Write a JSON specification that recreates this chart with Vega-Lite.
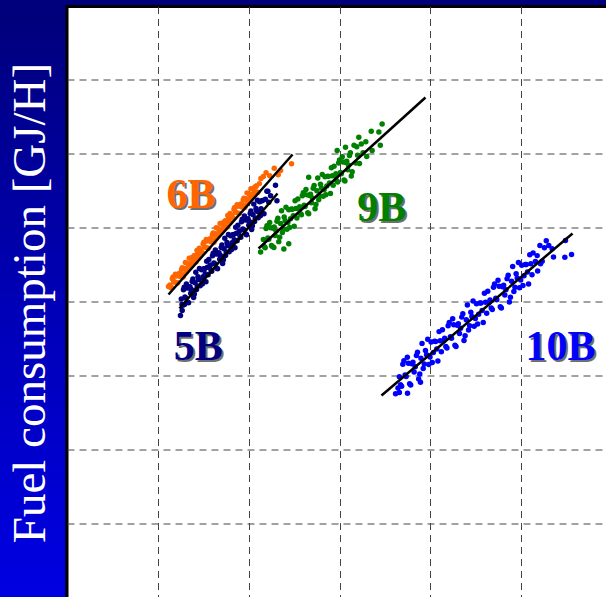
{
"$schema": "https://vega.github.io/schema/vega-lite/v6.json",
"padding": {"left": 0, "top": 4.5, "right": 0, "bottom": 0},
"background": "#00007c",
"spacing": 0,
"config": {"view": {"stroke": null}, "font": "Liberation Serif"},
"datasets": {
"pts": [
{"s":"6B","x":11.30,"y":42.22},{"s":"6B","x":11.47,"y":41.89},{"s":"6B","x":11.64,"y":43.30},{"s":"6B","x":11.81,"y":42.65},{"s":"6B","x":11.98,"y":43.46},{"s":"6B","x":12.15,"y":42.52},{"s":"6B","x":12.32,"y":43.79},{"s":"6B","x":12.49,"y":43.70},{"s":"6B","x":12.66,"y":44.56},{"s":"6B","x":12.83,"y":43.61},{"s":"6B","x":13.00,"y":45.28},{"s":"6B","x":13.17,"y":44.39},{"s":"6B","x":13.34,"y":44.98},{"s":"6B","x":13.51,"y":44.63},{"s":"6B","x":13.68,"y":45.90},{"s":"6B","x":13.85,"y":45.51},{"s":"6B","x":14.02,"y":46.21},{"s":"6B","x":14.19,"y":45.37},{"s":"6B","x":14.36,"y":46.53},{"s":"6B","x":14.53,"y":47.21},{"s":"6B","x":14.70,"y":46.92},{"s":"6B","x":14.87,"y":46.58},{"s":"6B","x":15.04,"y":48.00},{"s":"6B","x":15.21,"y":47.34},{"s":"6B","x":15.38,"y":48.16},{"s":"6B","x":15.55,"y":47.21},{"s":"6B","x":15.72,"y":48.49},{"s":"6B","x":15.89,"y":48.39},{"s":"6B","x":16.06,"y":49.26},{"s":"6B","x":16.23,"y":48.30},{"s":"6B","x":16.40,"y":49.98},{"s":"6B","x":16.57,"y":49.08},{"s":"6B","x":16.74,"y":49.68},{"s":"6B","x":16.91,"y":49.33},{"s":"6B","x":17.08,"y":50.60},{"s":"6B","x":17.25,"y":50.21},{"s":"6B","x":17.42,"y":50.91},{"s":"6B","x":17.59,"y":50.07},{"s":"6B","x":17.76,"y":51.23},{"s":"6B","x":17.93,"y":51.91},{"s":"6B","x":18.10,"y":51.62},{"s":"6B","x":18.27,"y":51.28},{"s":"6B","x":18.44,"y":52.70},{"s":"6B","x":18.61,"y":52.04},{"s":"6B","x":18.78,"y":52.86},{"s":"6B","x":18.95,"y":51.91},{"s":"6B","x":19.12,"y":53.19},{"s":"6B","x":19.29,"y":53.09},{"s":"6B","x":19.46,"y":53.96},{"s":"6B","x":19.63,"y":53.00},{"s":"6B","x":19.80,"y":54.68},{"s":"6B","x":19.97,"y":53.78},{"s":"6B","x":20.14,"y":54.38},{"s":"6B","x":20.31,"y":54.03},{"s":"6B","x":20.48,"y":55.30},{"s":"6B","x":20.65,"y":54.91},{"s":"6B","x":20.82,"y":55.61},{"s":"6B","x":20.99,"y":54.77},{"s":"6B","x":21.16,"y":55.93},{"s":"6B","x":21.33,"y":56.61},
{"s":"6B","x":11.39,"y":41.89},{"s":"6B","x":11.56,"y":43.06},{"s":"6B","x":11.73,"y":42.66},{"s":"6B","x":11.90,"y":43.69},{"s":"6B","x":12.07,"y":42.51},{"s":"6B","x":12.24,"y":43.64},{"s":"6B","x":12.41,"y":43.37},{"s":"6B","x":12.58,"y":44.32},{"s":"6B","x":12.75,"y":43.30},{"s":"6B","x":12.92,"y":44.47},{"s":"6B","x":13.09,"y":44.10},{"s":"6B","x":13.26,"y":45.13},{"s":"6B","x":13.43,"y":45.83},{"s":"6B","x":13.60,"y":45.09},{"s":"6B","x":13.77,"y":44.95},{"s":"6B","x":13.94,"y":46.14},{"s":"6B","x":14.11,"y":45.91},{"s":"6B","x":14.28,"y":46.91},{"s":"6B","x":14.45,"y":46.05},{"s":"6B","x":14.62,"y":46.73},{"s":"6B","x":14.79,"y":46.59},{"s":"6B","x":14.96,"y":47.76},{"s":"6B","x":15.13,"y":47.36},{"s":"6B","x":15.30,"y":48.39},{"s":"6B","x":15.47,"y":47.21},{"s":"6B","x":15.64,"y":48.34},{"s":"6B","x":15.81,"y":48.07},{"s":"6B","x":15.98,"y":49.02},{"s":"6B","x":16.15,"y":48.00},{"s":"6B","x":16.32,"y":49.17},{"s":"6B","x":16.49,"y":48.80},{"s":"6B","x":16.66,"y":49.83},{"s":"6B","x":16.83,"y":50.53},{"s":"6B","x":17.00,"y":49.79},{"s":"6B","x":17.17,"y":49.65},{"s":"6B","x":17.34,"y":50.84},{"s":"6B","x":17.51,"y":50.61},{"s":"6B","x":17.68,"y":51.61},{"s":"6B","x":17.85,"y":50.75},{"s":"6B","x":18.02,"y":51.43},{"s":"6B","x":18.19,"y":51.29},{"s":"6B","x":18.36,"y":52.46},{"s":"6B","x":18.53,"y":52.06},{"s":"6B","x":18.70,"y":53.09},{"s":"6B","x":18.87,"y":51.91},{"s":"6B","x":19.04,"y":53.04},{"s":"6B","x":19.21,"y":52.77},{"s":"6B","x":19.38,"y":53.72},{"s":"6B","x":19.55,"y":52.70},{"s":"6B","x":19.72,"y":53.87},{"s":"6B","x":19.89,"y":53.50},{"s":"6B","x":20.06,"y":54.53},{"s":"6B","x":20.23,"y":55.23},{"s":"6B","x":20.40,"y":54.49},{"s":"6B","x":20.57,"y":54.35},{"s":"6B","x":20.74,"y":55.54},
{"s":"6B","x":11.14,"y":42.03},{"s":"6B","x":21.6,"y":56.9},{"s":"6B","x":21.9,"y":57.4},{"s":"6B","x":22.3,"y":57.0},{"s":"6B","x":22.8,"y":58.0},{"s":"6B","x":23.24,"y":57.12},{"s":"6B","x":23.5,"y":57.7},{"s":"6B","x":24.71,"y":58.6},
{"s":"5B","x":12.55,"y":40.33},{"s":"5B","x":12.71,"y":39.49},{"s":"5B","x":12.87,"y":41.93},{"s":"5B","x":13.03,"y":40.49},{"s":"5B","x":13.19,"y":41.81},{"s":"5B","x":13.35,"y":39.82},{"s":"5B","x":13.51,"y":42.00},{"s":"5B","x":13.67,"y":41.62},{"s":"5B","x":13.83,"y":43.04},{"s":"5B","x":13.99,"y":41.03},{"s":"5B","x":14.15,"y":43.96},{"s":"5B","x":14.31,"y":42.06},{"s":"5B","x":14.47,"y":42.98},{"s":"5B","x":14.63,"y":42.12},{"s":"5B","x":14.79,"y":44.29},{"s":"5B","x":14.95,"y":43.35},{"s":"5B","x":15.11,"y":44.44},{"s":"5B","x":15.27,"y":42.66},{"s":"5B","x":15.43,"y":44.62},{"s":"5B","x":15.59,"y":45.69},{"s":"5B","x":15.75,"y":44.93},{"s":"5B","x":15.91,"y":44.09},{"s":"5B","x":16.07,"y":46.53},{"s":"5B","x":16.23,"y":45.09},{"s":"5B","x":16.39,"y":46.41},{"s":"5B","x":16.55,"y":44.42},{"s":"5B","x":16.71,"y":46.60},{"s":"5B","x":16.87,"y":46.22},{"s":"5B","x":17.03,"y":47.64},{"s":"5B","x":17.19,"y":45.63},{"s":"5B","x":17.35,"y":48.56},{"s":"5B","x":17.51,"y":46.66},{"s":"5B","x":17.67,"y":47.58},{"s":"5B","x":17.83,"y":46.72},{"s":"5B","x":17.99,"y":48.89},{"s":"5B","x":18.15,"y":47.95},{"s":"5B","x":18.31,"y":49.04},{"s":"5B","x":18.47,"y":47.26},{"s":"5B","x":18.63,"y":49.22},{"s":"5B","x":18.79,"y":50.29},{"s":"5B","x":18.95,"y":49.53},{"s":"5B","x":19.11,"y":48.69},{"s":"5B","x":19.27,"y":51.13},{"s":"5B","x":19.43,"y":49.69},{"s":"5B","x":19.59,"y":51.01},{"s":"5B","x":19.75,"y":49.02},{"s":"5B","x":19.91,"y":51.20},{"s":"5B","x":20.07,"y":50.82},{"s":"5B","x":20.23,"y":52.24},{"s":"5B","x":20.39,"y":50.23},{"s":"5B","x":20.55,"y":53.16},{"s":"5B","x":20.71,"y":51.26},{"s":"5B","x":20.87,"y":52.18},{"s":"5B","x":21.03,"y":51.32},{"s":"5B","x":21.19,"y":53.49},{"s":"5B","x":21.35,"y":52.55},{"s":"5B","x":21.51,"y":53.64},{"s":"5B","x":21.67,"y":51.86},{"s":"5B","x":21.83,"y":53.82},{"s":"5B","x":21.99,"y":54.89},
{"s":"5B","x":12.63,"y":39.59},{"s":"5B","x":12.79,"y":41.58},{"s":"5B","x":12.95,"y":40.61},{"s":"5B","x":13.11,"y":42.35},{"s":"5B","x":13.27,"y":39.91},{"s":"5B","x":13.43,"y":41.83},{"s":"5B","x":13.59,"y":41.10},{"s":"5B","x":13.75,"y":42.69},{"s":"5B","x":13.91,"y":40.54},{"s":"5B","x":14.07,"y":42.54},{"s":"5B","x":14.23,"y":41.62},{"s":"5B","x":14.39,"y":43.36},{"s":"5B","x":14.55,"y":44.47},{"s":"5B","x":14.71,"y":42.86},{"s":"5B","x":14.87,"y":42.38},{"s":"5B","x":15.03,"y":44.42},{"s":"5B","x":15.19,"y":43.75},{"s":"5B","x":15.35,"y":45.44},{"s":"5B","x":15.51,"y":43.61},{"s":"5B","x":15.67,"y":44.67},{"s":"5B","x":15.83,"y":44.19},{"s":"5B","x":15.99,"y":46.18},{"s":"5B","x":16.15,"y":45.21},{"s":"5B","x":16.31,"y":46.95},{"s":"5B","x":16.47,"y":44.51},{"s":"5B","x":16.63,"y":46.43},{"s":"5B","x":16.79,"y":45.70},{"s":"5B","x":16.95,"y":47.29},{"s":"5B","x":17.11,"y":45.14},{"s":"5B","x":17.27,"y":47.14},{"s":"5B","x":17.43,"y":46.22},{"s":"5B","x":17.59,"y":47.96},{"s":"5B","x":17.75,"y":49.07},{"s":"5B","x":17.91,"y":47.46},{"s":"5B","x":18.07,"y":46.98},{"s":"5B","x":18.23,"y":49.02},{"s":"5B","x":18.39,"y":48.35},{"s":"5B","x":18.55,"y":50.04},{"s":"5B","x":18.71,"y":48.21},{"s":"5B","x":18.87,"y":49.27},{"s":"5B","x":19.03,"y":48.79},{"s":"5B","x":19.19,"y":50.78},{"s":"5B","x":19.35,"y":49.81},{"s":"5B","x":19.51,"y":51.55},{"s":"5B","x":19.67,"y":49.11},{"s":"5B","x":19.83,"y":51.03},{"s":"5B","x":19.99,"y":50.30},{"s":"5B","x":20.15,"y":51.89},{"s":"5B","x":20.31,"y":49.74},{"s":"5B","x":20.47,"y":51.74},{"s":"5B","x":20.63,"y":50.82},{"s":"5B","x":20.79,"y":52.56},{"s":"5B","x":20.95,"y":53.67},{"s":"5B","x":21.11,"y":52.06},{"s":"5B","x":21.27,"y":51.58},{"s":"5B","x":21.43,"y":53.62},
{"s":"5B","x":12.46,"y":38.1},{"s":"5B","x":12.65,"y":38.8},{"s":"5B","x":12.9,"y":39.6},{"s":"5B","x":22.2,"y":53.4},{"s":"5B","x":22.4,"y":54.3},{"s":"5B","x":22.94,"y":55.7},{"s":"5B","x":23.1,"y":53.6},{"s":"5B","x":22.1,"y":54.9},
{"s":"9B","x":21.6,"y":48.39},{"s":"9B","x":21.8,"y":47.27},{"s":"9B","x":22.0,"y":50.25},{"s":"9B","x":22.2,"y":48.40},{"s":"9B","x":22.4,"y":49.98},{"s":"9B","x":22.6,"y":47.42},{"s":"9B","x":22.8,"y":50.08},{"s":"9B","x":23.0,"y":49.54},{"s":"9B","x":23.2,"y":51.24},{"s":"9B","x":23.4,"y":48.67},{"s":"9B","x":23.6,"y":52.27},{"s":"9B","x":23.8,"y":49.83},{"s":"9B","x":24.0,"y":50.91},{"s":"9B","x":24.2,"y":49.77},{"s":"9B","x":24.4,"y":52.41},{"s":"9B","x":24.6,"y":51.18},{"s":"9B","x":24.8,"y":52.48},{"s":"9B","x":25.0,"y":50.18},{"s":"9B","x":25.2,"y":52.56},{"s":"9B","x":25.4,"y":53.84},{"s":"9B","x":25.6,"y":52.82},{"s":"9B","x":25.8,"y":51.71},{"s":"9B","x":26.0,"y":54.69},{"s":"9B","x":26.2,"y":52.83},{"s":"9B","x":26.4,"y":54.41},{"s":"9B","x":26.6,"y":51.85},{"s":"9B","x":26.8,"y":54.51},{"s":"9B","x":27.0,"y":53.98},{"s":"9B","x":27.2,"y":55.68},{"s":"9B","x":27.4,"y":53.10},{"s":"9B","x":27.6,"y":56.70},{"s":"9B","x":27.8,"y":54.26},{"s":"9B","x":28.0,"y":55.34},{"s":"9B","x":28.2,"y":54.21},{"s":"9B","x":28.4,"y":56.85},{"s":"9B","x":28.6,"y":55.61},{"s":"9B","x":28.8,"y":56.91},{"s":"9B","x":29.0,"y":54.61},{"s":"9B","x":29.2,"y":56.99},{"s":"9B","x":29.4,"y":58.28},{"s":"9B","x":29.6,"y":57.26},{"s":"9B","x":29.8,"y":56.14},{"s":"9B","x":30.0,"y":59.12},{"s":"9B","x":30.2,"y":57.26},{"s":"9B","x":30.4,"y":58.84},{"s":"9B","x":30.6,"y":56.29},{"s":"9B","x":30.8,"y":58.95},{"s":"9B","x":31.0,"y":58.41},{"s":"9B","x":31.2,"y":60.11},{"s":"9B","x":31.4,"y":57.53},{"s":"9B","x":31.6,"y":61.13},{"s":"9B","x":31.8,"y":58.70},{"s":"9B","x":32.0,"y":59.78},{"s":"9B","x":32.2,"y":58.64},{"s":"9B","x":32.4,"y":61.28},
{"s":"9B","x":21.7,"y":47.44},{"s":"9B","x":21.9,"y":49.86},{"s":"9B","x":22.1,"y":48.58},{"s":"9B","x":22.3,"y":50.69},{"s":"9B","x":22.5,"y":47.57},{"s":"9B","x":22.7,"y":49.91},{"s":"9B","x":22.9,"y":48.93},{"s":"9B","x":23.1,"y":50.85},{"s":"9B","x":23.3,"y":48.09},{"s":"9B","x":23.5,"y":50.54},{"s":"9B","x":23.7,"y":49.32},{"s":"9B","x":23.9,"y":51.42},{"s":"9B","x":24.1,"y":52.74},{"s":"9B","x":24.3,"y":50.66},{"s":"9B","x":24.5,"y":50.00},{"s":"9B","x":24.7,"y":52.49},{"s":"9B","x":24.9,"y":51.59},{"s":"9B","x":25.1,"y":53.63},{"s":"9B","x":25.3,"y":51.27},{"s":"9B","x":25.5,"y":52.53},{"s":"9B","x":25.7,"y":51.87},{"s":"9B","x":25.9,"y":54.30},{"s":"9B","x":26.1,"y":53.02},{"s":"9B","x":26.3,"y":55.12},{"s":"9B","x":26.5,"y":52.00},{"s":"9B","x":26.7,"y":54.34},{"s":"9B","x":26.9,"y":53.36},{"s":"9B","x":27.1,"y":55.29},{"s":"9B","x":27.3,"y":52.53},{"s":"9B","x":27.5,"y":54.97},{"s":"9B","x":27.7,"y":53.75},{"s":"9B","x":27.9,"y":55.85},{"s":"9B","x":28.1,"y":57.17},{"s":"9B","x":28.3,"y":55.10},{"s":"9B","x":28.5,"y":54.44},{"s":"9B","x":28.7,"y":56.92},{"s":"9B","x":28.9,"y":56.02},{"s":"9B","x":29.1,"y":58.06},{"s":"9B","x":29.3,"y":55.70},{"s":"9B","x":29.5,"y":56.97},{"s":"9B","x":29.7,"y":56.31},{"s":"9B","x":29.9,"y":58.73},{"s":"9B","x":30.1,"y":57.45},{"s":"9B","x":30.3,"y":59.55},{"s":"9B","x":30.5,"y":56.43},{"s":"9B","x":30.7,"y":58.78},{"s":"9B","x":30.9,"y":57.80},{"s":"9B","x":31.1,"y":59.72},{"s":"9B","x":31.3,"y":56.96},
{"s":"9B","x":21.3,"y":46.7},{"s":"9B","x":22.76,"y":47.3},{"s":"9B","x":23.86,"y":47.1},{"s":"9B","x":24.4,"y":47.8},{"s":"9B","x":26.6,"y":56.8},{"s":"9B","x":29.74,"y":60.4},{"s":"9B","x":30.66,"y":60.85},{"s":"9B","x":32.13,"y":62.2},{"s":"9B","x":32.9,"y":61.6},{"s":"9B","x":33.5,"y":63.0},{"s":"9B","x":33.6,"y":60.4},{"s":"9B","x":34.34,"y":62.9},{"s":"9B","x":34.7,"y":64.0},{"s":"9B","x":34.5,"y":61.1},{"s":"9B","x":32.6,"y":60.1},{"s":"9B","x":33.0,"y":59.6},{"s":"9B","x":31.9,"y":60.9},
{"s":"10B","x":36.60,"y":29.83},{"s":"10B","x":36.85,"y":28.54},{"s":"10B","x":37.10,"y":31.98},{"s":"10B","x":37.35,"y":29.85},{"s":"10B","x":37.60,"y":31.67},{"s":"10B","x":37.85,"y":28.73},{"s":"10B","x":38.10,"y":31.80},{"s":"10B","x":38.35,"y":31.19},{"s":"10B","x":38.60,"y":33.15},{"s":"10B","x":38.85,"y":30.19},{"s":"10B","x":39.10,"y":34.34},{"s":"10B","x":39.35,"y":31.54},{"s":"10B","x":39.60,"y":32.79},{"s":"10B","x":39.85,"y":31.48},{"s":"10B","x":40.10,"y":34.52},{"s":"10B","x":40.35,"y":33.10},{"s":"10B","x":40.60,"y":34.61},{"s":"10B","x":40.85,"y":31.96},{"s":"10B","x":41.10,"y":34.70},{"s":"10B","x":41.35,"y":36.18},{"s":"10B","x":41.60,"y":35.02},{"s":"10B","x":41.85,"y":33.73},{"s":"10B","x":42.10,"y":37.17},{"s":"10B","x":42.35,"y":35.04},{"s":"10B","x":42.60,"y":36.86},{"s":"10B","x":42.85,"y":33.92},{"s":"10B","x":43.10,"y":36.99},{"s":"10B","x":43.35,"y":36.38},{"s":"10B","x":43.60,"y":38.34},{"s":"10B","x":43.85,"y":35.38},{"s":"10B","x":44.10,"y":39.53},{"s":"10B","x":44.35,"y":36.73},{"s":"10B","x":44.60,"y":37.98},{"s":"10B","x":44.85,"y":36.67},{"s":"10B","x":45.10,"y":39.71},{"s":"10B","x":45.35,"y":38.29},{"s":"10B","x":45.60,"y":39.80},{"s":"10B","x":45.85,"y":37.16},{"s":"10B","x":46.10,"y":39.90},{"s":"10B","x":46.35,"y":41.38},{"s":"10B","x":46.60,"y":40.22},{"s":"10B","x":46.85,"y":38.93},{"s":"10B","x":47.10,"y":42.37},{"s":"10B","x":47.35,"y":40.24},{"s":"10B","x":47.60,"y":42.06},{"s":"10B","x":47.85,"y":39.12},{"s":"10B","x":48.10,"y":42.19},{"s":"10B","x":48.35,"y":41.58},{"s":"10B","x":48.60,"y":43.54},{"s":"10B","x":48.85,"y":40.58},{"s":"10B","x":49.10,"y":44.73},{"s":"10B","x":49.35,"y":41.93},{"s":"10B","x":49.60,"y":43.18},{"s":"10B","x":49.85,"y":41.87},{"s":"10B","x":50.10,"y":44.90},{"s":"10B","x":50.35,"y":43.48},{"s":"10B","x":50.60,"y":44.99},{"s":"10B","x":50.85,"y":42.35},{"s":"10B","x":51.10,"y":45.09},{"s":"10B","x":51.35,"y":46.57},{"s":"10B","x":51.60,"y":45.41},{"s":"10B","x":51.85,"y":44.12},{"s":"10B","x":52.10,"y":47.56},{"s":"10B","x":52.35,"y":45.43},{"s":"10B","x":52.60,"y":47.25},
{"s":"10B","x":36.73,"y":28.74},{"s":"10B","x":36.98,"y":31.53},{"s":"10B","x":37.23,"y":30.06},{"s":"10B","x":37.48,"y":32.48},{"s":"10B","x":37.73,"y":28.90},{"s":"10B","x":37.98,"y":31.60},{"s":"10B","x":38.23,"y":30.48},{"s":"10B","x":38.48,"y":32.70},{"s":"10B","x":38.73,"y":29.53},{"s":"10B","x":38.98,"y":32.34},{"s":"10B","x":39.23,"y":30.95},{"s":"10B","x":39.48,"y":33.37},{"s":"10B","x":39.73,"y":34.89},{"s":"10B","x":39.98,"y":32.51},{"s":"10B","x":40.23,"y":31.76},{"s":"10B","x":40.48,"y":34.62},{"s":"10B","x":40.73,"y":33.59},{"s":"10B","x":40.98,"y":35.93},{"s":"10B","x":41.23,"y":33.22},{"s":"10B","x":41.48,"y":34.68},{"s":"10B","x":41.73,"y":33.93},{"s":"10B","x":41.98,"y":36.72},{"s":"10B","x":42.23,"y":35.25},{"s":"10B","x":42.48,"y":37.67},{"s":"10B","x":42.73,"y":34.09},{"s":"10B","x":42.98,"y":36.79},{"s":"10B","x":43.23,"y":35.67},{"s":"10B","x":43.48,"y":37.89},{"s":"10B","x":43.73,"y":34.72},{"s":"10B","x":43.98,"y":37.53},{"s":"10B","x":44.23,"y":36.14},{"s":"10B","x":44.48,"y":38.56},{"s":"10B","x":44.73,"y":40.08},{"s":"10B","x":44.98,"y":37.70},{"s":"10B","x":45.23,"y":36.95},{"s":"10B","x":45.48,"y":39.81},{"s":"10B","x":45.73,"y":38.78},{"s":"10B","x":45.98,"y":41.13},{"s":"10B","x":46.23,"y":38.42},{"s":"10B","x":46.48,"y":39.88},{"s":"10B","x":46.73,"y":39.13},{"s":"10B","x":46.98,"y":41.92},{"s":"10B","x":47.23,"y":40.45},{"s":"10B","x":47.48,"y":42.87},{"s":"10B","x":47.73,"y":39.29},{"s":"10B","x":47.98,"y":41.99},{"s":"10B","x":48.23,"y":40.87},{"s":"10B","x":48.48,"y":43.09},{"s":"10B","x":48.73,"y":39.92},{"s":"10B","x":48.98,"y":42.73},{"s":"10B","x":49.23,"y":41.34},{"s":"10B","x":49.48,"y":43.76},{"s":"10B","x":49.73,"y":45.28},{"s":"10B","x":49.98,"y":42.90},{"s":"10B","x":50.23,"y":42.15},{"s":"10B","x":50.48,"y":45.01},{"s":"10B","x":50.73,"y":43.98},{"s":"10B","x":50.98,"y":46.32},{"s":"10B","x":51.23,"y":43.61},
{"s":"10B","x":53.08,"y":47.57},{"s":"10B","x":53.45,"y":47.12},{"s":"10B","x":54.92,"y":48.24},{"s":"10B","x":54.85,"y":45.99},{"s":"10B","x":55.59,"y":46.35},{"s":"10B","x":51.8,"y":46.2},{"s":"10B","x":52.17,"y":45.1},{"s":"10B","x":53.6,"y":46.0},{"s":"10B","x":52.8,"y":48.2},{"s":"10B","x":36.18,"y":27.53},{"s":"10B","x":36.45,"y":28.3},{"s":"10B","x":36.6,"y":27.7},{"s":"10B","x":38.93,"y":29.1},{"s":"10B","x":37.5,"y":27.6}
],
"fit": [
{"s":"6B","x":11.14,"y":40.95},{"s":"6B","x":24.82,"y":59.86},
{"s":"5B","x":12.35,"y":39.05},{"s":"5B","x":23.16,"y":54.59},
{"s":"9B","x":21.07,"y":47.16},{"s":"9B","x":39.48,"y":67.57},
{"s":"10B","x":34.63,"y":27.30},{"s":"10B","x":55.70,"y":49.19}
],
"lab": [
{"s":"6B","x":10.92,"y":52.64},
{"s":"5B","x":11.72,"y":32.07},
{"s":"9B","x":31.95,"y":50.85},
{"s":"10B","x":50.51,"y":32.07}
]
},
"hconcat": [
{
"width": 65, "height": 593,
"data": {"values": [{"t": "Fuel consumption [GJ/H]"}]},
"encoding": {
"x": {"datum": 0.685, "type": "quantitative", "scale": {"domain": [0, 1]}, "axis": null},
"y": {"datum": 0.5, "type": "quantitative", "scale": {"domain": [0, 1]}, "axis": null}
},
"layer": [
{"mark": {"type": "rect", "strokeWidth": 0, "fill": {"gradient": "linear", "x1": 0, "y1": 0, "x2": 0, "y2": 1, "stops": [{"offset": 0, "color": "#00007a"}, {"offset": 0.5, "color": "#0000b6"}, {"offset": 1, "color": "#0000e2"}]}},
 "encoding": {"x": {"datum": 0, "type": "quantitative"}, "x2": {"datum": 1}, "y": {"datum": 0, "type": "quantitative"}, "y2": {"datum": 1}}},
{"mark": {"type": "text", "angle": 270, "align": "center", "baseline": "alphabetic", "font": "Liberation Serif", "fontSize": 47, "color": "white"},
 "encoding": {"text": {"field": "t"}}}
]
},
{
"width": 541, "height": 592,
"view": {"stroke": "black", "strokeWidth": 3, "fill": "white"},
"encoding": {
"x": {"field": "x", "type": "quantitative", "scale": {"domain": [-0.055, 59.61], "nice": false, "zero": false},
 "axis": {"grid": true, "gridDash": [7, 5], "gridColor": "#444444", "gridWidth": 1, "labels": false, "ticks": false, "domain": false, "title": null, "values": [10, 20, 30, 40, 50]}},
"y": {"field": "y", "type": "quantitative", "scale": {"domain": [-0.135, 79.865], "nice": false, "zero": false},
 "axis": {"grid": true, "gridDash": [7, 5], "gridColor": "#444444", "gridWidth": 1, "labels": false, "ticks": false, "domain": false, "title": null, "values": [10, 20, 30, 40, 50, 60, 70]}}
},
"layer": [
{"data": {"name": "pts"}, "mark": {"type": "circle", "size": 30, "opacity": 1},
 "encoding": {"color": {"field": "s", "type": "nominal", "scale": {"domain": ["6B", "5B", "9B", "10B"], "range": ["#ff6600", "#000080", "#008000", "#0000ff"]}, "legend": null}}},
{"data": {"name": "fit"}, "mark": {"type": "line", "color": "black", "strokeWidth": 2.5},
 "encoding": {"detail": {"field": "s"}}},
{"data": {"name": "lab"}, "mark": {"type": "text", "font": "Liberation Serif", "fontSize": 42, "fontWeight": "bold", "align": "left", "baseline": "alphabetic", "dx": 2, "dy": 2, "color": "#111111", "opacity": 0.6},
 "encoding": {"text": {"field": "s"}}},
{"data": {"name": "lab"}, "mark": {"type": "text", "font": "Liberation Serif", "fontSize": 42, "fontWeight": "bold", "align": "left", "baseline": "alphabetic"},
 "encoding": {"text": {"field": "s"}, "color": {"field": "s", "type": "nominal", "legend": null}}}
]
}
]
}
